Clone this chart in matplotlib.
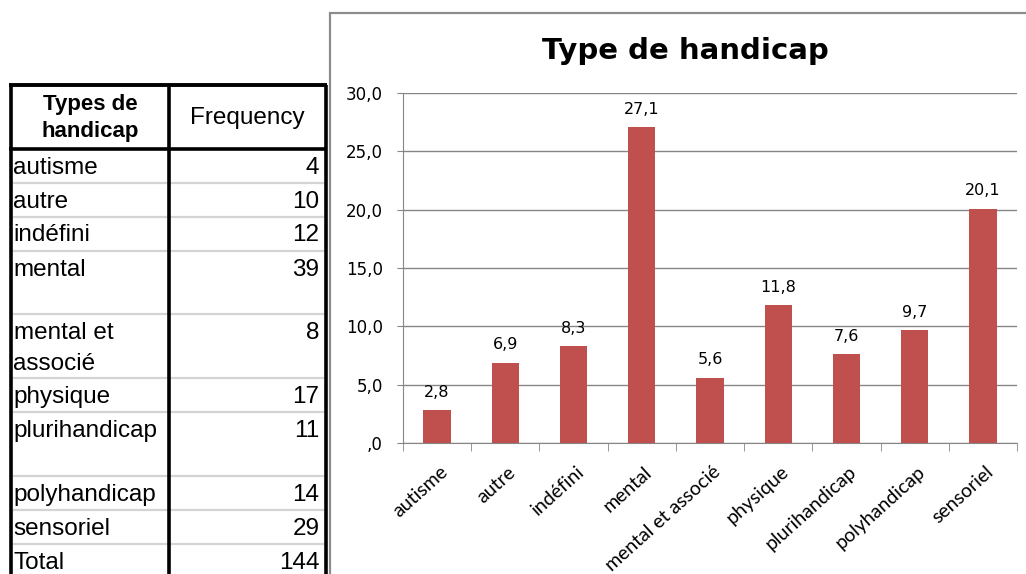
import matplotlib
matplotlib.use("Agg")
import matplotlib.pyplot as plt
import matplotlib.transforms as mtransforms
from matplotlib.lines import Line2D
from matplotlib.patches import Rectangle

# table data (frequencies)
table_labels = ["autisme", "autre", "indéfini", "mental", "mental et\nassocié",
                "physique", "plurihandicap", "polyhandicap", "sensoriel", "Total"]
table_freq = [4, 10, 12, 39, 8, 17, 11, 14, 29, 144]
# rows that SPSS printed double height
row_lines = [1, 1, 1, 2, 2, 1, 2, 1, 1, 1]

# chart data (percent)
categories = ["autisme", "autre", "indéfini", "mental", "mental et associé",
              "physique", "plurihandicap", "polyhandicap", "sensoriel"]
percent = [2.8, 6.9, 8.3, 27.1, 5.6, 11.8, 7.6, 9.7, 20.1]

W, H = 1026, 574
bar_color = "#C0504D"
grid_color = "#868686"
chart_font = "DejaVu Sans"
label_font = "Lato"
table_font = "Liberation Sans"


def fy(y):
    # pixel row (from top) -> figure fraction
    return 1 - y / H


def fx(x):
    return x / W


def fmt(v):
    s = ("%.1f" % v).replace(".", ",")
    if s.startswith("0"):
        s = s[1:]
    return s


def draw_table(fig):
    x_left, x_mid, x_right = 10.5, 169, 325.5
    y_top, y_head = 85, 148.5
    single, double = 34, 63.7

    def hline(y, x0, x1, color, lw):
        fig.add_artist(Line2D([fx(x0), fx(x1)], [fy(y), fy(y)], color=color, lw=lw,
                              transform=fig.transFigure, solid_capstyle="butt"))

    def vline(x, y0, y1, color, lw):
        fig.add_artist(Line2D([fx(x), fx(x)], [fy(y0), fy(y1)], color=color, lw=lw,
                              transform=fig.transFigure, solid_capstyle="butt"))

    fig.text(fx(90), fy(110), "Types de", ha="center", va="baseline",
             fontsize=16, fontweight="bold", family=table_font)
    fig.text(fx(90), fy(137), "handicap", ha="center", va="baseline",
             fontsize=16, fontweight="bold", family=table_font)
    fig.text(fx((x_mid + x_right) / 2), fy(124), "Frequency",
             ha="center", va="baseline", fontsize=17.5, family=table_font)

    y = y_head
    for lab, val, n in zip(table_labels, table_freq, row_lines):
        for i, line in enumerate(lab.split("\n")):
            fig.text(fx(x_left + 3), fy(y + 25 + i * 31), line, ha="left",
                     va="baseline", fontsize=17.5, family=table_font)
        fig.text(fx(x_right - 6), fy(y + 25), str(val), ha="right", va="baseline",
                 fontsize=17.5, family=table_font)
        y += double if n == 2 else single
        if y < H:
            hline(y, x_left + 2, x_right - 2, "#d4d4d4", 1.6)

    hline(y_top, x_left - 1.5, x_right + 1.5, "black", 2.8)
    hline(y_head, x_left - 1.5, x_right + 1.5, "black", 2.6)
    for x in (x_left, x_mid, x_right):
        vline(x, y_top, H, "black", 2.6)


def main():
    fig = plt.figure(figsize=(W / 100, H / 100), dpi=100)
    fig.patch.set_facecolor("white")

    # chart frame
    fig.add_artist(Rectangle((fx(330), fy(H + 10)), fx(W - 330 + 10), fy(13) - fy(H + 10),
                             transform=fig.transFigure, fill=False,
                             edgecolor="#8c8c8c", lw=1.6))

    fig.text(fx(685), fy(59), "Type de handicap", ha="center", va="baseline",
             fontsize=21, fontweight="bold", family=chart_font)

    ax = fig.add_axes([fx(403), fy(443), fx(1017 - 403), fy(93) - fy(443)])
    x = list(range(len(categories)))
    bars = ax.bar(x, percent, width=0.40, color=bar_color, zorder=3)
    for b, v in zip(bars, percent):
        ax.annotate(fmt(v), (b.get_x() + b.get_width() / 2, v), xytext=(0, 9.5),
                    textcoords="offset points", ha="center", va="baseline",
                    fontsize=11.5, family=chart_font)

    ax.set_xlim(-0.5, len(categories) - 0.5)
    ax.set_ylim(0, 30)
    ax.set_yticks(range(0, 31, 5))
    ax.set_yticklabels([fmt(v) for v in range(0, 31, 5)], family=chart_font, fontsize=12)
    ax.yaxis.grid(True, color=grid_color, lw=1)
    ax.set_axisbelow(True)

    ax.set_xticks(x)
    ax.set_xticklabels(categories, rotation=42, ha="right", va="center",
                       rotation_mode="anchor", family=label_font, fontsize=14)
    ax.tick_params(axis="x", length=0, pad=19)
    shift = mtransforms.ScaledTranslation(8 / 100, 0, fig.dpi_scale_trans)
    for lab in ax.get_xticklabels():
        lab.set_transform(lab.get_transform() + shift)
    ax.set_xticks([i - 0.5 for i in range(len(categories) + 1)], minor=True)
    ax.tick_params(axis="x", which="minor", length=5.5, color=grid_color, direction="out")
    ax.tick_params(axis="y", length=4.5, color=grid_color, direction="out", pad=10)

    for s in ("top", "right"):
        ax.spines[s].set_visible(False)
    ax.spines["left"].set_color(grid_color)
    ax.spines["bottom"].set_color(grid_color)

    draw_table(fig)

    fig.savefig("out.png", dpi=100)


if __name__ == "__main__":
    main()
